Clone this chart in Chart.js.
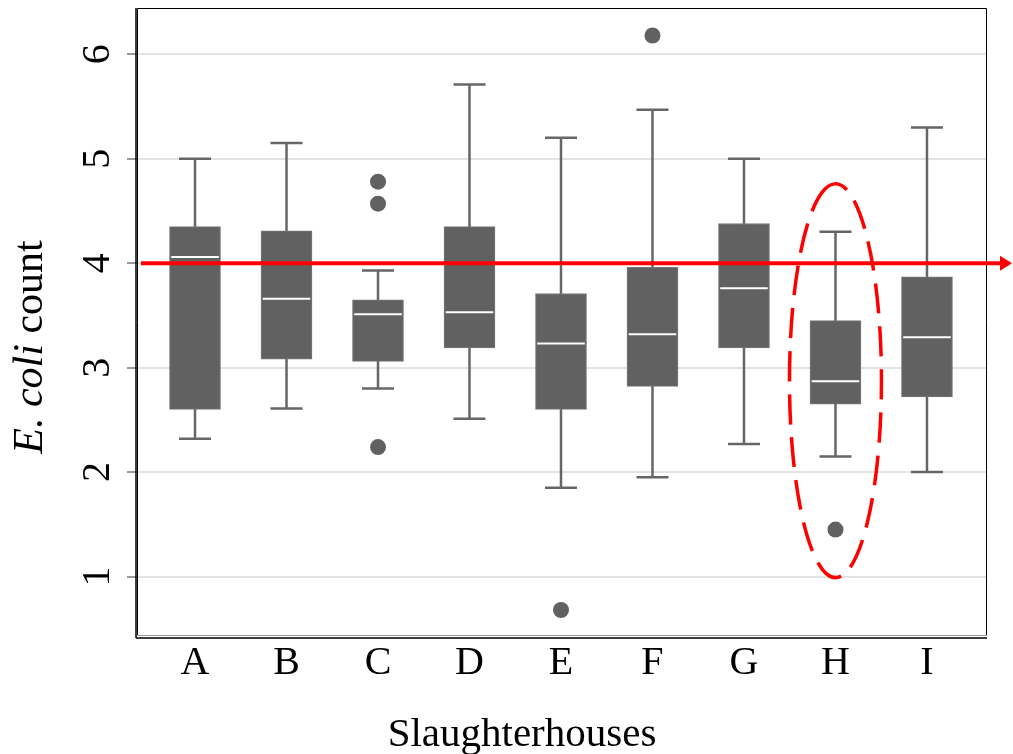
<!DOCTYPE html>
<html>
<head>
<meta charset="utf-8">
<script src="https://cdn.jsdelivr.net/npm/chart.js@4.4.0/dist/chart.umd.min.js"></script>
<style>
  body { margin: 0; background: #fff; }
</style>
</head>
<body>
<canvas id="ecoli-chart" width="1013" height="754"></canvas>
<script>
// slaughterhouses and the box plot numbers (log count)
let houses = ['A', 'B', 'C', 'D', 'E', 'F', 'G', 'H', 'I'];
let whiskerLow = [2.32, 2.61, 2.80, 2.51, 1.85, 1.95, 2.27, 2.15, 2.00];
let q1 = [2.60, 3.08, 3.06, 3.19, 2.60, 2.82, 3.19, 2.65, 2.72];
let median = [4.06, 3.66, 3.51, 3.53, 3.23, 3.32, 3.76, 2.87, 3.29];
let q3 = [4.35, 4.31, 3.65, 4.35, 3.71, 3.96, 4.38, 3.45, 3.87];
let whiskerHigh = [5.00, 5.15, 3.93, 5.71, 5.20, 5.47, 5.00, 4.30, 5.30];
let outlierHouse = ['C', 'C', 'C', 'E', 'F', 'H'];
let outlierValue = [4.78, 4.57, 2.24, 0.68, 6.18, 1.45];
let limit = 4;
let circled = 'H';
let circleRange = [0.99, 4.76];

const CAP = 0.175;   // half cap width, x units
const MED = 0.26;    // half median width
const serif = 'Liberation Serif';

let pos = h => houses.indexOf(h) + 1;

let boxes = houses.map((h, i) => ({x: i + 1, y: [q1[i], q3[i]]}));
let stems = [];
let caps = [];
let medians = [];
houses.forEach((h, i) => {
    let x = i + 1;
    stems.push({x: x, y: whiskerLow[i]}, {x: x, y: whiskerHigh[i]}, {x: x, y: null});
    caps.push({x: x - CAP, y: whiskerHigh[i]}, {x: x + CAP, y: whiskerHigh[i]}, {x: x, y: null});
    caps.push({x: x - CAP, y: whiskerLow[i]}, {x: x + CAP, y: whiskerLow[i]}, {x: x, y: null});
    medians.push({x: x - MED, y: median[i]}, {x: x + MED, y: median[i]}, {x: x, y: null});
});
let outliers = outlierHouse.map((h, i) => ({x: pos(h), y: outlierValue[i]}));

// frame, red limit arrow, dashed ellipse and the axis titles
const decor = {
    id: 'decor',
    afterDatasetsDraw(chart) {
        const ctx = chart.ctx;
        const a = chart.chartArea;
        const xs = chart.scales.x;
        const ys = chart.scales.y;
        ctx.save();

        // frame
        ctx.strokeStyle = '#000';
        ctx.lineWidth = 1;
        ctx.beginPath();
        ctx.moveTo(a.left + 0.5, a.bottom);
        ctx.lineTo(a.left + 0.5, a.top + 0.5);
        ctx.lineTo(a.right - 0.5, a.top + 0.5);
        ctx.lineTo(a.right - 0.5, a.bottom);
        ctx.stroke();
        ctx.lineWidth = 1.5;
        ctx.beginPath();
        ctx.moveTo(a.left - 1, a.top);
        ctx.lineTo(a.left - 1, a.bottom + 2);
        ctx.moveTo(a.left - 1, a.bottom + 2);
        ctx.lineTo(a.right, a.bottom + 2);
        ctx.stroke();
        ctx.strokeStyle = '#999';
        ctx.lineWidth = 1;
        ctx.beginPath();
        ctx.moveTo(a.left, a.bottom - 0.5);
        ctx.lineTo(a.right, a.bottom - 0.5);
        ctx.stroke();

        // limit arrow
        const y = ys.getPixelForValue(limit);
        const end = chart.width - 1;
        ctx.strokeStyle = '#ff0000';
        ctx.fillStyle = '#ff0000';
        ctx.lineWidth = 4;
        ctx.beginPath();
        ctx.moveTo(a.left + 4, y);
        ctx.lineTo(end - 8, y);
        ctx.stroke();
        ctx.beginPath();
        ctx.moveTo(end - 12, y - 7.5);
        ctx.lineTo(end, y);
        ctx.lineTo(end - 12, y + 7.5);
        ctx.closePath();
        ctx.fill();

        // dashed ellipse round the circled house
        const cx = xs.getPixelForValue(pos(circled));
        const top = ys.getPixelForValue(circleRange[1]);
        const bot = ys.getPixelForValue(circleRange[0]);
        ctx.lineWidth = 3.5;
        ctx.setLineDash([30, 13]);
        ctx.beginPath();
        ctx.ellipse(cx, (top + bot) / 2, 46, (bot - top) / 2, 0, -Math.PI / 2 - 0.3, Math.PI * 1.5 - 0.3);
        ctx.stroke();
        ctx.setLineDash([]);

        ctx.fillStyle = '#000';
        ctx.textBaseline = 'alphabetic';

        // x title
        ctx.font = '41px "' + serif + '"';
        ctx.textAlign = 'center';
        ctx.fillText('Slaughterhouses', (a.left + a.right) / 2 - 40, 746);
        ctx.textAlign = 'left';

        // y title, "E. coli" in italics
        ctx.translate(42, (a.top + a.bottom) / 2 + 25);
        ctx.rotate(-Math.PI / 2);
        const it = 'italic 42px "' + serif + '"';
        const up = '42px "' + serif + '"';
        ctx.font = it;
        const w1 = ctx.measureText('E. coli').width;
        ctx.font = up;
        const w2 = ctx.measureText(' count').width;
        let x0 = -(w1 + w2) / 2;
        ctx.font = it;
        ctx.fillText('E. coli', x0, 0);
        ctx.font = up;
        ctx.fillText(' count', x0 + w1, 0);
        ctx.restore();
    }
};

let ctx = document.getElementById('ecoli-chart').getContext('2d');

new Chart(ctx, {
    type: 'bar',
    data: {
        datasets: [
            {
                type: 'line', data: stems, order: 5,
                borderColor: '#666666', borderWidth: 2.5, pointRadius: 0, spanGaps: false
            },
            {
                type: 'line', data: caps, order: 4,
                borderColor: '#666666', borderWidth: 2.5, pointRadius: 0, spanGaps: false
            },
            {
                type: 'bar', data: boxes, order: 3,
                backgroundColor: '#616161', borderColor: '#7a7a7a', borderWidth: 1,
                borderSkipped: false, barThickness: 51
            },
            {
                type: 'line', data: medians, order: 2,
                borderColor: '#ffffff', borderWidth: 2, pointRadius: 0, spanGaps: false
            },
            {
                type: 'scatter', data: outliers, order: 1,
                backgroundColor: '#616161', borderWidth: 0, pointRadius: 8
            }
        ]
    },
    options: {
        responsive: false,
        animation: false,
        layout: {padding: {top: 7, right: 26, left: 0, bottom: 0}},
        plugins: {
            legend: {display: false},
            tooltip: {enabled: false}
        },
        scales: {
            x: {
                type: 'linear',
                min: 0.366,
                max: 9.656,
                offset: false,
                grid: {display: false, drawTicks: false, offset: false},
                border: {display: false},
                ticks: {
                    stepSize: 1,
                    includeBounds: false,
                    autoSkip: false,
                    maxRotation: 0,
                    padding: 3,
                    color: '#000',
                    font: {family: serif, size: 40},
                    callback: v => Number.isInteger(v) ? houses[v - 1] : ''
                },
                afterFit: s => {
                    s.height = 118;
                    s.paddingLeft = 0;
                    s.paddingRight = 0;
                }
            },
            y: {
                min: 0.431,
                max: 6.443,
                beginAtZero: false,
                grid: {color: '#e3e3e3', lineWidth: 2, tickColor: '#333', tickLength: 10, tickWidth: 1},
                border: {display: false},
                ticks: {
                    stepSize: 1,
                    includeBounds: false,
                    minRotation: 90,
                    maxRotation: 90,
                    crossAlign: 'center',
                    padding: 19,
                    color: '#000',
                    font: {family: serif, size: 40}
                },
                afterFit: s => {
                    s.width = 137;
                    s.paddingTop = 0;
                    s.paddingBottom = 0;
                }
            }
        }
    },
    plugins: [decor]
});
</script>
</body>
</html>
